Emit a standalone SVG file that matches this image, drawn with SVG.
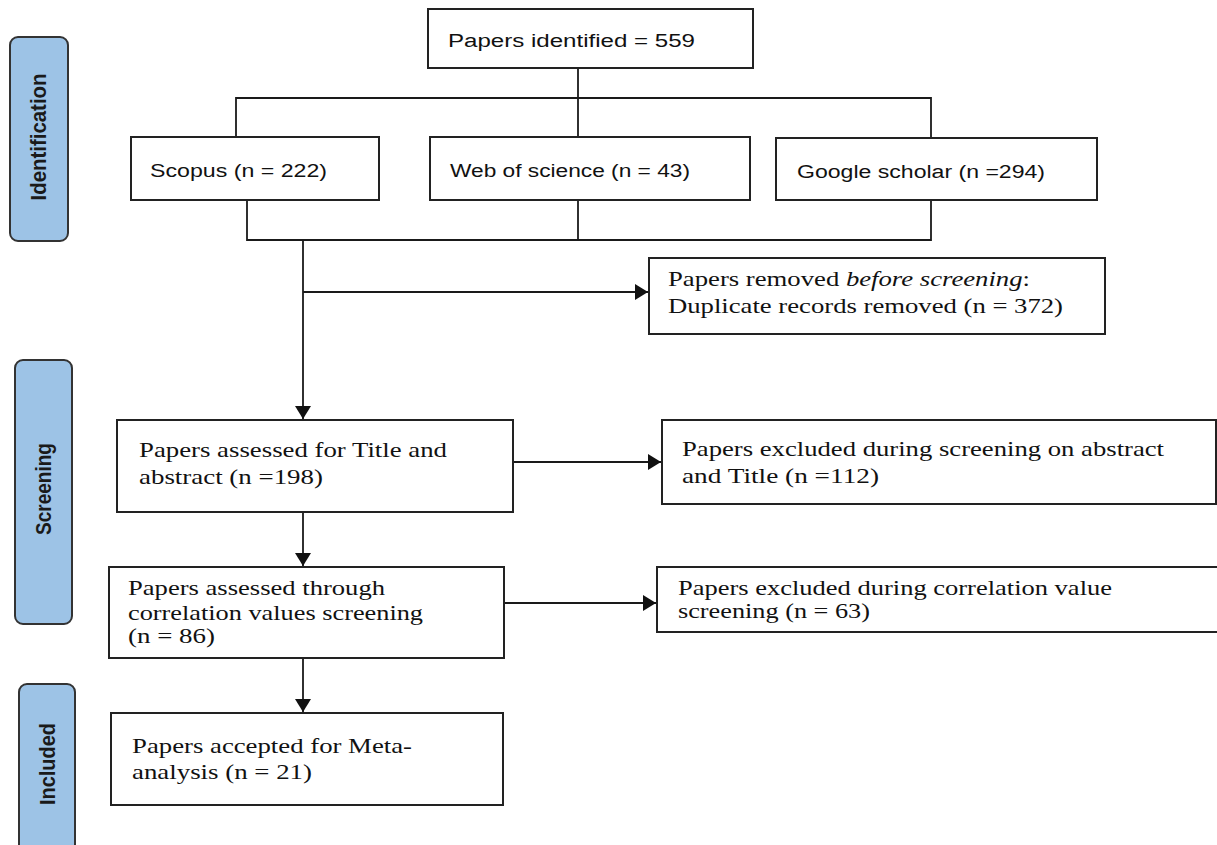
<svg xmlns="http://www.w3.org/2000/svg" width="1217" height="845" viewBox="0 0 1217 845">
<style>
.box{fill:#fff;stroke:#222;stroke-width:2}
.stage{fill:#9dc3e6;stroke:#333;stroke-width:2}
.ln{fill:none;stroke:#1a1a1a;stroke-width:1.8}
.sans{font-family:"Liberation Sans",Arial,sans-serif;font-size:18px;fill:#111}
.serif{font-family:"Liberation Serif","Times New Roman",serif;font-size:21px;fill:#111}
.lab{font-family:"Liberation Sans Narrow","Liberation Sans",Arial,sans-serif;font-weight:bold;font-size:22px;fill:#1a1a1a}
</style>
<defs>
<marker id="ah" markerUnits="userSpaceOnUse" markerWidth="16" markerHeight="18" refX="13" refY="8" orient="auto">
<path d="M0,0 L13,8 L0,16 Z" fill="#111"/>
</marker>
</defs>

<g id="stage-identification">
<rect class="stage" x="10" y="37" width="58" height="204" rx="8"/>
<text class="lab" transform="translate(46,137) rotate(-90)" text-anchor="middle" textLength="127" lengthAdjust="spacingAndGlyphs">Identification</text>
</g>
<g id="stage-screening">
<rect class="stage" x="15" y="360" width="57" height="264" rx="8"/>
<text class="lab" transform="translate(51,489) rotate(-90)" text-anchor="middle" textLength="92" lengthAdjust="spacingAndGlyphs">Screening</text>
</g>
<g id="stage-included">
<rect class="stage" x="19" y="684" width="56" height="180" rx="8"/>
<text class="lab" transform="translate(55,764) rotate(-90)" text-anchor="middle" textLength="82" lengthAdjust="spacingAndGlyphs">Included</text>
</g>

<g id="connectors">
<path class="ln" d="M578,68 V138"/>
<path class="ln" d="M236,137 V98 H931 V138"/>
<path class="ln" d="M247,200 V240 H931 V200"/>
<path class="ln" d="M578,200 V240"/>
<path class="ln" d="M303,240 V419" marker-end="url(#ah)"/>
<path class="ln" d="M303,292 H648" marker-end="url(#ah)"/>
<path class="ln" d="M513,462 H661" marker-end="url(#ah)"/>
<path class="ln" d="M303,512 V566" marker-end="url(#ah)"/>
<path class="ln" d="M504,603 H656" marker-end="url(#ah)"/>
<path class="ln" d="M303,658 V712" marker-end="url(#ah)"/>
</g>

<g id="n-identified">
<rect class="box" x="428" y="9" width="325" height="59"/>
<text class="sans" x="448" y="47" textLength="247" lengthAdjust="spacingAndGlyphs">Papers identified = 559</text>
</g>
<g id="n-scopus">
<rect class="box" x="131" y="137" width="248" height="63"/>
<text class="sans" x="150" y="177" textLength="177" lengthAdjust="spacingAndGlyphs">Scopus (n = 222)</text>
</g>
<g id="n-wos">
<rect class="box" x="430" y="137" width="320" height="63"/>
<text class="sans" x="450" y="177" textLength="240" lengthAdjust="spacingAndGlyphs">Web of science (n = 43)</text>
</g>
<g id="n-google">
<rect class="box" x="776" y="138" width="321" height="62"/>
<text class="sans" x="797" y="178" textLength="248" lengthAdjust="spacingAndGlyphs">Google scholar (n =294)</text>
</g>
<g id="n-removed">
<rect class="box" x="649" y="258" width="456" height="76"/>
<text class="serif" x="668" y="286" textLength="362" lengthAdjust="spacingAndGlyphs">Papers removed <tspan font-style="italic">before screening</tspan>:</text>
<text class="serif" x="668" y="313" textLength="395" lengthAdjust="spacingAndGlyphs">Duplicate records removed (n = 372)</text>
</g>
<g id="n-assessed-title">
<rect class="box" x="117" y="420" width="396" height="92"/>
<text class="serif" x="139" y="457" textLength="308" lengthAdjust="spacingAndGlyphs">Papers assessed for Title  and</text>
<text class="serif" x="139" y="484" textLength="184" lengthAdjust="spacingAndGlyphs">abstract (n =198)</text>
</g>
<g id="n-excluded-title">
<rect class="box" x="662" y="420" width="554" height="84"/>
<text class="serif" x="682" y="456" textLength="482" lengthAdjust="spacingAndGlyphs">Papers excluded during screening on abstract</text>
<text class="serif" x="682" y="483" textLength="197" lengthAdjust="spacingAndGlyphs">and Title (n =112)</text>
</g>
<g id="n-assessed-corr">
<rect class="box" x="109" y="567" width="395" height="91"/>
<text class="serif" x="128" y="595" textLength="257" lengthAdjust="spacingAndGlyphs">Papers assessed through</text>
<text class="serif" x="128" y="620" textLength="295" lengthAdjust="spacingAndGlyphs">correlation  values screening</text>
<text class="serif" x="128" y="643" textLength="87" lengthAdjust="spacingAndGlyphs">(n = 86)</text>
</g>
<g id="n-excluded-corr">
<rect class="box" x="657" y="567" width="580" height="65"/>
<text class="serif" x="678" y="595" textLength="434" lengthAdjust="spacingAndGlyphs">Papers excluded during correlation value</text>
<text class="serif" x="678" y="618" textLength="192" lengthAdjust="spacingAndGlyphs">screening (n = 63)</text>
</g>
<g id="n-included">
<rect class="box" x="111" y="713" width="392" height="92"/>
<text class="serif" x="132" y="753" textLength="280" lengthAdjust="spacingAndGlyphs">Papers accepted  for Meta-</text>
<text class="serif" x="132" y="779" textLength="180" lengthAdjust="spacingAndGlyphs">analysis (n = 21)</text>
</g>
</svg>
